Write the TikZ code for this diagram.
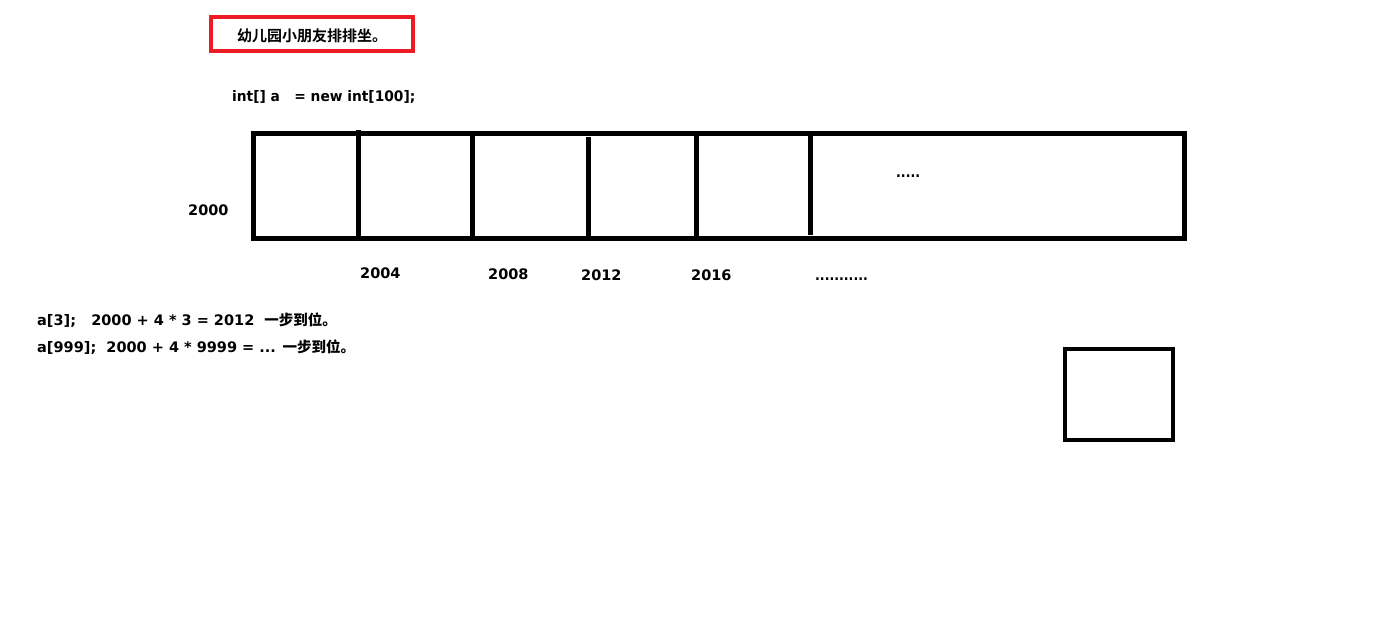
\documentclass[tikz,border=0pt]{standalone}
\usepackage{fontspec}
\setmainfont{DejaVu Sans}
\newfontfamily\cjkf{Noto Sans CJK SC Bold}
\begin{document}
\begin{tikzpicture}[x=1pt,y=-1pt,
  txt/.style={anchor=west,inner sep=0pt,font=\bfseries\fontsize{14.5}{18}\selectfont},
  dotstxt/.style={txt,anchor=base west,xscale=0.87,transform shape},
  thick line/.style={line width=5pt},
  cellbox/.style={draw,line width=5pt}]
\useasboundingbox (0,0) rectangle (1375,637);
% title
\node[draw={rgb,255:red,237;green,28;blue,36},line width=4pt,minimum width=202pt,minimum height=34pt,inner sep=0pt] (title) at (312,34) {};
\node[inner sep=0pt,font=\cjkf\fontsize{15}{18}\selectfont] (titletxt) at (312,36) {幼儿园小朋友排排坐。};
\node[txt,xscale=0.95,transform shape] (decl) at (232,97) {int[] a \ \ = new int[100];};
% array
\draw[cellbox] (253,133) rectangle (1184,238);
\coordinate (d1t) at (358,130); \coordinate (d1b) at (358,238);
\coordinate (d2t) at (472,133); \coordinate (d2b) at (472,238);
\coordinate (d3t) at (588,137); \coordinate (d3b) at (588,238);
\coordinate (d4t) at (696,133); \coordinate (d4b) at (696,238);
\coordinate (d5t) at (810,133); \coordinate (d5b) at (810,235);
\draw[thick line] (d1t) -- (d1b);
\draw[thick line] (d2t) -- (d2b);
\draw[thick line] (d3t) -- (d3b);
\draw[thick line] (d4t) -- (d4b);
\draw[thick line] (d5t) -- (d5b);
\node[dotstxt] (dots1) at (896,177) {.....};
\node[txt] (a2000) at (188,210) {2000};
\node[txt] (a2004) at (360,273) {2004};
\node[txt] (a2008) at (488,274) {2008};
\node[txt] (a2012) at (581,275) {2012};
\node[txt] (a2016) at (691,275) {2016};
\node[dotstxt] (dots2) at (815,280) {...........};
\node[txt] (l1) at (37,320) {a[3]; \ \ 2000 + 4 * 3 = 2012 \ {\cjkf 一步到位。}};
\node[txt] (l2) at (37,347) {a[999]; \ 2000 + 4 * 9999 = ... {\cjkf 一步到位。}};
\draw[cellbox,line width=4.5pt] (1065,349) rectangle (1173,440);
\end{tikzpicture}
\end{document}
